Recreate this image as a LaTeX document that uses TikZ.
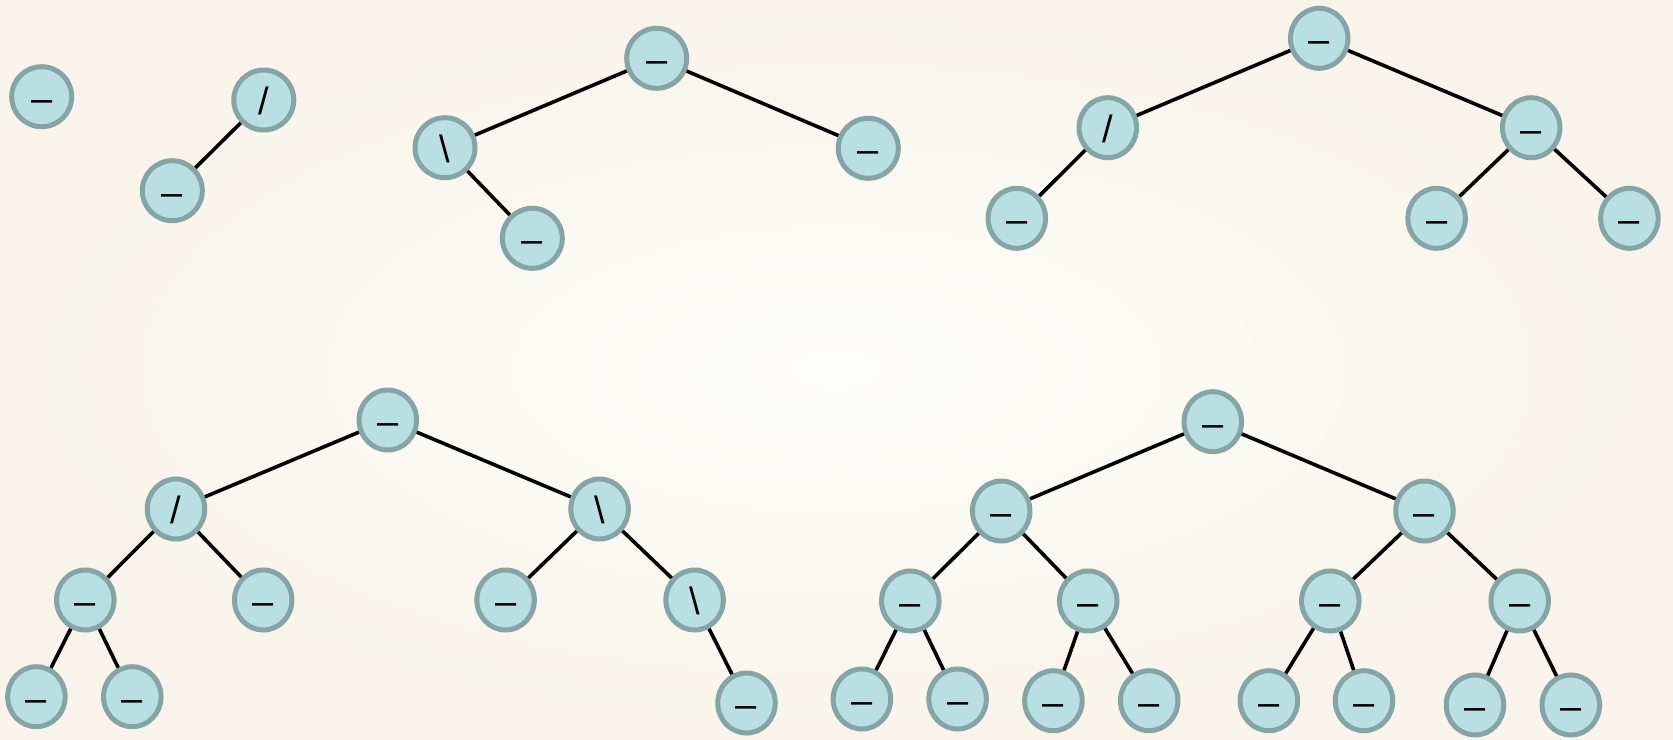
\documentclass[tikz,border=0pt]{standalone}
\usepackage{fontspec}
\setmainfont{Liberation Sans}
\usetikzlibrary{shapes.geometric}
\definecolor{nfill}{RGB}{186,223,227}
\definecolor{nline}{RGB}{134,164,166}
\definecolor{bgin}{RGB}{253,253,250}
\definecolor{bgout}{RGB}{248,244,235}
\tikzset{
  nd/.style={circle,draw=nline,fill=nfill,line width=5,minimum size=60,inner sep=0pt,
    font=\fontsize{38}{40}\selectfont,text height=29,text depth=0pt},
  nde/.style={ellipse,draw=nline,fill=nfill,line width=5,minimum width=57.5,minimum height=60,inner sep=0pt,
    font=\fontsize{38}{40}\selectfont,text height=29,text depth=0pt},
  edge/.style={line width=3.6,black}
}
\begin{document}
\begin{tikzpicture}[x=1pt,y=-1pt]
\shade[inner color=bgin,outer color=bgout] (0,0) rectangle (1673,739);
\useasboundingbox (0,0) rectangle (1673,739);
% tree 1
\node[nd] (a1) at (41.7,96.7) {–};
% tree 2
\node[nd] (b1) at (263.8,100) {/};
\node[nd] (b2) at (172.3,190.7) {–};
\draw[edge] (b1) -- (b2);
% tree 3
\node[nd] (c1) at (656.7,58.3) {–};
\node[nd] (c2) at (445,147.7) {\textbackslash};
\node[nd] (c3) at (868.3,148.3) {–};
\node[nd] (c4) at (532.3,238.3) {–};
\draw[edge] (c1) -- (c2);
\draw[edge] (c1) -- (c3);
\draw[edge] (c2) -- (c4);
% tree 4
\node[nde] (d1) at (1319.2,38.3) {–};
\node[nde] (d2) at (1107.8,127.7) {/};
\node[nde] (d3) at (1531.2,127.7) {–};
\node[nde] (d4) at (1016.8,218.3) {–};
\node[nde] (d5) at (1436.6,218.3) {–};
\node[nde] (d6) at (1629.4,218.3) {–};
\draw[edge] (d1) -- (d2);
\draw[edge] (d1) -- (d3);
\draw[edge] (d2) -- (d4);
\draw[edge] (d3) -- (d5);
\draw[edge] (d3) -- (d6);
% tree 5
\node[nde] (e1) at (387.8,420) {–};
\node[nde] (e2) at (176,509) {/};
\node[nde] (e3) at (599.6,509) {\textbackslash};
\node[nde] (e4) at (85.3,600) {–};
\node[nde] (e5) at (263.2,600) {–};
\node[nde] (e6) at (505.6,600) {–};
\node[nde] (e7) at (694.6,600) {\textbackslash};
\node[nde] (e8) at (36.4,696.7) {–};
\node[nde] (e9) at (132.3,696.7) {–};
\node[nde] (e10) at (746.5,703) {–};
\draw[edge] (e1) -- (e2);
\draw[edge] (e1) -- (e3);
\draw[edge] (e2) -- (e4);
\draw[edge] (e2) -- (e5);
\draw[edge] (e3) -- (e6);
\draw[edge] (e3) -- (e7);
\draw[edge] (e4) -- (e8);
\draw[edge] (e4) -- (e9);
\draw[edge] (e7) -- (e10);
% tree 6
\node[nde] (f1) at (1212.8,421.7) {–};
\node[nde] (f2) at (1001.2,511) {–};
\node[nde] (f3) at (1424.5,511) {–};
\node[nde] (f4) at (910.3,601) {–};
\node[nde] (f5) at (1088.2,601) {–};
\node[nde] (f6) at (1330.3,601) {–};
\node[nde] (f7) at (1519.7,601) {–};
\node[nde] (f8) at (861.9,699) {–};
\node[nde] (f9) at (957.6,699) {–};
\node[nde] (f10) at (1053.4,700.7) {–};
\node[nde] (f11) at (1149.2,700.7) {–};
\node[nde] (f12) at (1268.9,700.7) {–};
\node[nde] (f13) at (1364,700.7) {–};
\node[nde] (f14) at (1475,705) {–};
\node[nde] (f15) at (1570.8,705) {–};
\draw[edge] (f1) -- (f2);
\draw[edge] (f1) -- (f3);
\draw[edge] (f2) -- (f4);
\draw[edge] (f2) -- (f5);
\draw[edge] (f3) -- (f6);
\draw[edge] (f3) -- (f7);
\draw[edge] (f4) -- (f8);
\draw[edge] (f4) -- (f9);
\draw[edge] (f5) -- (f10);
\draw[edge] (f5) -- (f11);
\draw[edge] (f6) -- (f12);
\draw[edge] (f6) -- (f13);
\draw[edge] (f7) -- (f14);
\draw[edge] (f7) -- (f15);
\end{tikzpicture}
\end{document}
